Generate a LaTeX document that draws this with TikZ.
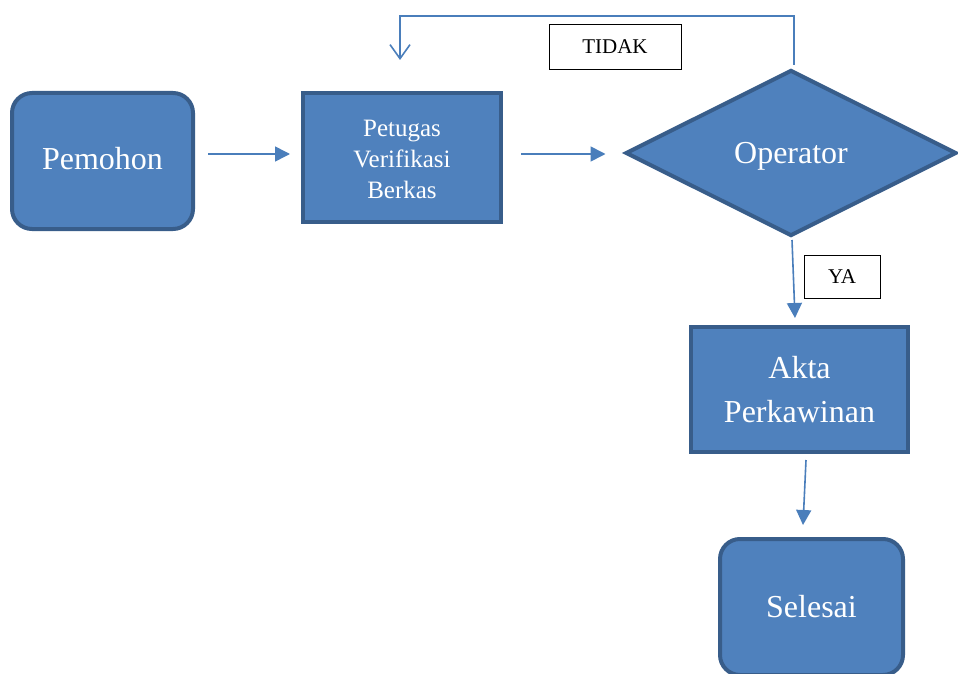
\documentclass[tikz,border=0pt]{standalone}
\usepackage{fontspec}
\setmainfont{Liberation Serif}
\usetikzlibrary{shapes.geometric,arrows.meta,calc}
\definecolor{boxfill}{HTML}{4F81BD}
\definecolor{boxline}{HTML}{385D8A}
\definecolor{flow}{HTML}{4A7EBB}
% move text within a node without changing its size
\newcommand{\nudge}[2]{\raisebox{#1}[\height][\depth]{#2}}
\tikzset{
  block/.style={draw=boxline,fill=boxfill,line width=4pt,text=white,
    inner sep=0pt,align=center},
  terminal/.style={block,rounded corners=20pt},
  decision/.style={block,diamond,aspect=2},
  tag/.style={draw=black,line width=0.8pt,fill=white,inner sep=0pt,
    font=\fontsize{21}{24}\selectfont},
  flowline/.style={draw=flow,line width=1.6pt,
    -{Triangle[length=15pt,width=15pt]}},
  loopline/.style={draw=flow,line width=1.6pt,
    -{Straight Barb[length=14pt,width=20pt,line width=1.6pt]}},
  big/.style={font=\fontsize{32}{44}\selectfont},
  mid/.style={font=\fontsize{25}{31}\selectfont}
}
\begin{document}
\begin{tikzpicture}[x=1pt,y=-1pt]
\useasboundingbox (0,0) rectangle (958,674);
\clip (0,0) rectangle (958,674);

% process steps
\node[terminal,big,minimum width=181pt,minimum height=136pt] (pem) at (102.5,161) {\nudge{2pt}{Pemohon}};
\node[block,mid,minimum width=198pt,minimum height=129pt] (pet) at (402,157.5) {\nudge{-4pt}{\begin{tabular}{@{}c@{}}Petugas\\Verifikasi\\Berkas\end{tabular}}};
\node[decision,big,minimum width=331pt,minimum height=166pt] (op) at (791,153) {\nudge{-3pt}{Operator}};
\node[block,big,minimum width=217pt,minimum height=125pt] (akta) at (799.5,389.5) {Akta\\Perkawinan};
\node[terminal,big,minimum width=183pt,minimum height=136pt] (sel) at (811.5,607) {Selesai};

% branch labels
\node[tag,minimum width=132pt,minimum height=45pt] (tidak) at (615,46.5) {TIDAK};
\node[tag,minimum width=76pt,minimum height=43pt] (ya) at (842,276.5) {YA};

% horizontal level of the first two connectors
\coordinate (row) at (0,154);

% connectors
\draw[flowline,shorten <=13pt,shorten >=11pt] (pem.east |- row) -- (pet.west |- row);
\draw[flowline,shorten <=18pt,shorten >=18pt] (pet.east |- row) -- (op.west |- row);
\draw[flowline] ($(op.south)+(1,2)$) -- ($(akta.north)+(-4.5,-7)$);
\draw[flowline] ($(akta.south)+(6.5,6)$) -- ($(sel.north)+(-8.5,-12)$);
\draw[loopline] ($(op.north)+(3,-3)$) -- ++(0,-49) -| ($(pet.north)+(-2,-31)$);
\end{tikzpicture}
\end{document}
